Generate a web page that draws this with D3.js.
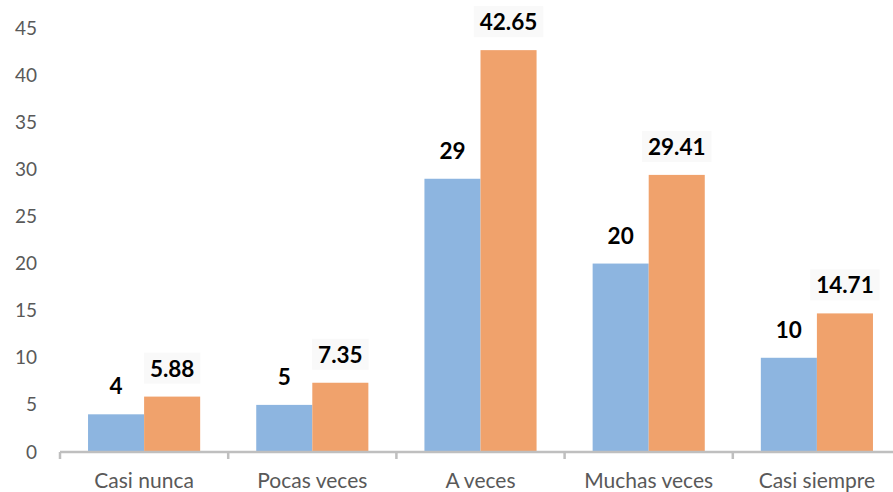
<!DOCTYPE html>
<html><head><meta charset="utf-8">
<script src="https://cdn.jsdelivr.net/npm/d3@7"></script>
<style>html,body{margin:0;padding:0;background:#fff;overflow:hidden}</style>
</head><body>
<svg id="c" width="893" height="492"></svg>
<script>
const categories = ["Casi nunca","Pocas veces","A veces","Muchas veces","Casi siempre"];
const seriesA = [4,5,29,20,10];
const seriesB = [5.88,7.35,42.65,29.41,14.71];
const labelsA = ["4","5","29","20","10"];
const labelsB = ["5.88","7.35","42.65","29.41","14.71"];
const yTicks = [0,5,10,15,20,25,30,35,40,45];

const svg = d3.select("#c");
const font = "Lato, 'Open Sans', sans-serif";
const x0 = d3.scaleBand().domain(categories).range([60, 901]).paddingInner(0).paddingOuter(0);
const x1 = d3.scaleBand().domain(["A","B"]).range([0, x0.bandwidth()]).paddingInner(0).paddingOuter(0.5);
const y = d3.scaleLinear().domain([0,45]).range([452, 28]);

const ya = svg.append("g").attr("transform","translate(37,0)")
  .call(d3.axisLeft(y).tickValues(yTicks).tickSize(0).tickPadding(0));
ya.select(".domain").remove();
ya.selectAll("text").attr("font-family",font).attr("font-size",19).attr("fill","#595959");

const colors = {A:"#8db5e0", B:"#f0a26c"};
const data = categories.map((c,i)=>({c, A:seriesA[i], B:seriesB[i], la:labelsA[i], lb:labelsB[i]}));

const g = svg.append("g");
data.forEach(d=>{
  ["A","B"].forEach(k=>{
    g.append("rect")
      .attr("x", x0(d.c)+x1(k)).attr("width", x1.bandwidth())
      .attr("y", y(d[k])).attr("height", y(0)-y(d[k]))
      .attr("fill", colors[k]);
  });
});

const xa = svg.append("g").attr("transform","translate(0,452)")
  .call(d3.axisBottom(x0).tickSize(0).tickPadding(21));
xa.select(".domain").attr("stroke","#bfbfbf").attr("stroke-width",2.5).attr("d","M60,0H893");
xa.selectAll("text").attr("font-family",font).attr("font-size",21).attr("fill","#595959");
const bounds = categories.map(c=>x0(c)).concat([x0.range()[1]]);
svg.append("g").selectAll("line").data(bounds).join("line")
  .attr("x1",d=>d).attr("x2",d=>d).attr("y1",452).attr("y2",459)
  .attr("stroke","#bfbfbf").attr("stroke-width",2.5);

data.forEach(d=>{
  [["A","la"],["B","lb"]].forEach(([k,lk])=>{
    const cx = x0(d.c)+x1(k)+x1.bandwidth()/2;
    const t = svg.append("text").attr("x",cx).attr("y",y(d[k])-20)
      .attr("text-anchor","middle").attr("font-family",font).attr("font-weight","bold")
      .attr("font-size",22.5).attr("fill","#000").text(d[lk]);
    if(k==="B"){
      const bb = t.node().getBBox();
      svg.insert("rect", () => t.node()).attr("x",bb.x-6).attr("y",bb.y-2).attr("width",bb.width+12).attr("height",bb.height+4).attr("fill","#f9f9f9");
    }
  });
});
</script>
</body></html>
